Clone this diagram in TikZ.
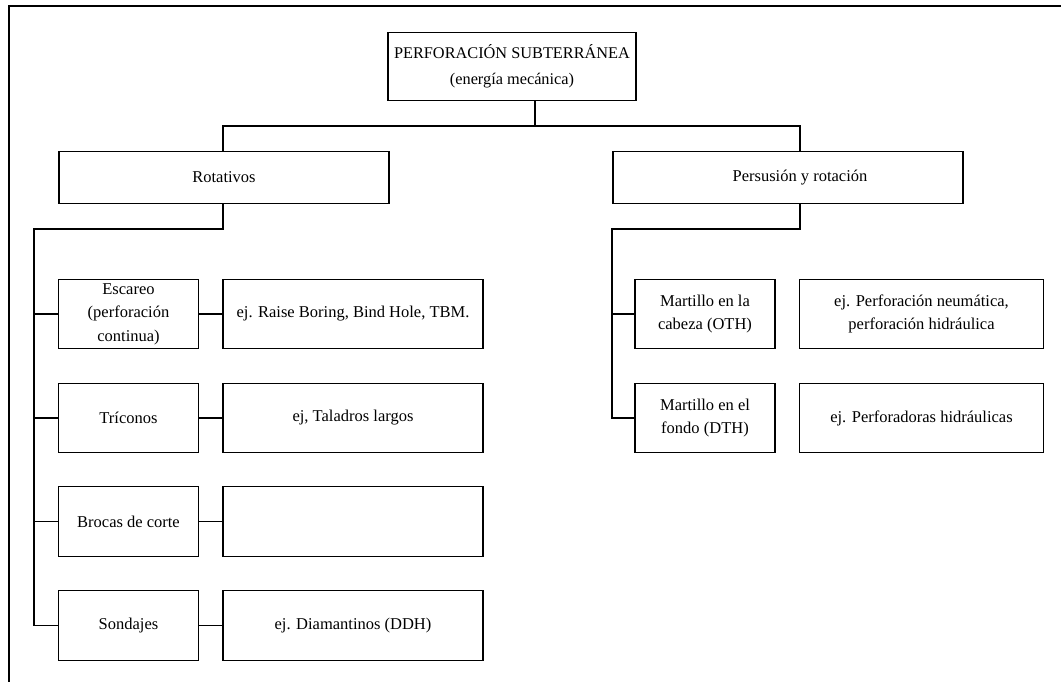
\documentclass[tikz,border=0pt]{standalone}
\usepackage{fontspec}
\setmainfont{Liberation Serif}
\begin{document}
\begin{tikzpicture}[x=1pt,y=-1pt,
  box/.style={draw, line width=1.4pt, inner sep=0pt, align=center,
    font=\fontsize{16.5}{23.5}\selectfont},
  kind/.style={box, minimum width=139.5pt, minimum height=69.5pt},
  example/.style={box, minimum width=260pt, minimum height=69.5pt},
  rkind/.style={box, minimum width=140pt, minimum height=69.5pt},
  rexample/.style={box, minimum width=244pt, minimum height=69.5pt},
  link/.style={line width=1.4pt}]
\useasboundingbox (0,0) rectangle (1061,682);
\fill[white] (0,0) rectangle (1061,682);

% outer frame (left and top edges)
\draw[line width=1.6pt] (9,690) -- (9,6) -- (1070,6);

% root
\node[box, minimum width=248pt, minimum height=68.5pt,
      font=\fontsize{16.3}{25.6}\selectfont] (root) at (512,66.5)
  {PERFORACIÓN SUBTERRÁNEA\\(energía mecánica)};

% families
\node[box, minimum width=330pt, minimum height=51.5pt] (rot) at (224,177.5) {Rotativos};
\node[box, minimum width=350pt, minimum height=51.5pt] (per) at (788,177.5)
  {\hspace*{24pt}Persusión y rotación};

% rotary methods
\node[kind] (k1) at (128.5,314) {Escareo\\(perforación\\continua)};
\node[kind] (k2) at (128.5,418) {Tríconos};
\node[kind] (k3) at (128.5,521.5) {Brocas de corte};
\node[kind] (k4) at (128.5,625.5) {Sondajes};

\node[example] (e1) at (353,314) {ej. Raise Boring, Bind Hole, TBM.};
\node[example] (e2) at (353,418) {ej, Taladros largos};
\node[example] (e3) at (353,521.5) {};
\node[example] (e4) at (353,625.5) {ej. Diamantinos (DDH)};

% percussive-rotary methods
\node[rkind] (h1) at (705,314) {Martillo en la\\cabeza (OTH)};
\node[rkind] (h2) at (705,418) {Martillo en el\\fondo (DTH)};

\node[rexample] (x1) at (921.5,314) {ej. Perforación neumática,\\perforación hidráulica};
\node[rexample] (x2) at (921.5,418) {ej. Perforadoras hidráulicas};

% connector junctions
\coordinate (hub) at (535,126);
\coordinate (rtop) at (223,126);
\coordinate (ptop) at (800,126);
\coordinate (rbus) at (34,229);
\coordinate (pbus) at (612,229);

\draw[link] (root.south -| hub) -- (hub);
\draw[link] (rot.north -| rtop) -- (rtop) -- (ptop) -- (per.north -| ptop);

\draw[link] (rot.south -| rtop) |- (rbus) |- (k4.west);
\draw[link] (rbus |- k1.west) -- (k1.west);
\draw[link] (rbus |- k2.west) -- (k2.west);
\draw[link] (rbus |- k3.west) -- (k3.west);

\draw[link] (k1.east) -- (e1.west);
\draw[link] (k2.east) -- (e2.west);
\draw[link] (k3.east) -- (e3.west);
\draw[link] (k4.east) -- (e4.west);

\draw[link] (per.south -| ptop) |- (pbus) |- (h2.west);
\draw[link] (pbus |- h1.west) -- (h1.west);
\end{tikzpicture}
\end{document}
